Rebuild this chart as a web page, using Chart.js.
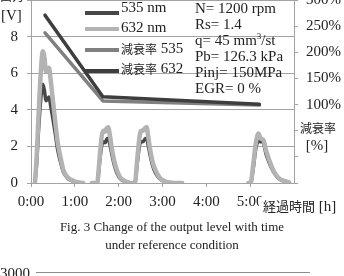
<!DOCTYPE html>
<html>
<head>
<meta charset="utf-8">
<script src="https://cdn.jsdelivr.net/npm/chart.js@4.4.1/dist/chart.umd.min.js"></script>
<style>
  html, body { margin: 0; padding: 0; background: #fff; }
  body { width: 344px; height: 276px; position: relative; overflow: hidden; font-family: "Liberation Serif", serif; color: #222; }
  #wrap { position: absolute; left: 0; top: -24px; width: 344px; height: 236px; }
  .txt { position: absolute; white-space: nowrap; }
  .jp { font-family: "Noto Sans CJK JP", sans-serif; font-size: 12px; }
</style>
</head>
<body>
<div id="wrap"><canvas id="grafico"></canvas></div>

<div class="txt jp" style="left:0px; top:-11px; line-height:14px;">出力</div>
<div class="txt" style="left:1px; top:6px; font-size:15px; line-height:18px;">[V]</div>

<div class="txt" style="left:195px; top:0px; font-size:15px; line-height:16px;">N= 1200 rpm<br>Rs= 1.4<br>q= 45 mm<sup style="font-size:9px; line-height:0;">3</sup>/st<br>Pb= 126.3 kPa<br>Pinj= 150MPa<br>EGR= 0 %</div>

<div class="txt" style="left:300px; top:119px; text-align:center; width:34px; line-height:17px; background:#fff;"><span class="jp">減衰率</span><br><span style="font-size:15px;">[%]</span></div>
<div class="txt" style="left:259px; top:197px; line-height:18px; background:#fff; padding-left:4px;"><span class="jp" style="font-size:13px;">経過時間</span><span style="font-size:15px;"> [h]</span></div>

<div class="txt" style="left:0; top:218px; width:344px; text-align:center; font-size:13px; line-height:18px;">Fig. 3 Change of the output level with time<br>under reference condition</div>

<div class="txt" style="left:0px; top:266px; font-size:15px; line-height:15px;">3000</div>
<div style="position:absolute; left:36px; top:272px; width:274px; height:1px; background:#8c8c8c;"></div>

<script>
"use strict"

// tiempo [h]
const tiempo = [
    0.09, 0.13, 0.17, 0.22, 0.27, 0.31, 0.34, 0.38, 0.41, 0.45, 0.50, 0.56, 0.61, 0.69, 0.74, 0.84, 0.94, 1.04, 1.19,
    1.30,
    1.39, 1.51, 1.56, 1.61, 1.65, 1.69, 1.73, 1.76, 1.80, 1.85, 1.91, 1.96, 2.05, 2.15, 2.25,
    2.28,
    2.31, 2.37, 2.42, 2.48, 2.51, 2.55, 2.60, 2.64, 2.67, 2.72, 2.78, 2.84, 2.93, 3.05, 3.20, 3.45,
    3.60,
    4.96, 5.01, 5.07, 5.13, 5.19, 5.23, 5.27, 5.31, 5.36, 5.42, 5.49, 5.56, 5.66, 5.79, 5.89
];

// salida [V] 535 nm
const salida535 = [
    0, 1.1, 2.8, 4.5, 5.4, 5.0, 4.5, 4.6, 4.7, 4.2, 3.5, 2.6, 1.8, 1.0, 0.6, 0.25, 0.12, 0.04, 0,
    null,
    0, 0, 1.0, 2.0, 2.25, 2.2, 2.4, 2.45, 2.1, 1.5, 0.9, 0.55, 0.2, 0.08, 0,
    null,
    0, 0, 1.0, 2.1, 2.25, 2.25, 2.4, 2.45, 2.1, 1.5, 0.9, 0.55, 0.25, 0.08, 0.02, 0,
    null,
    0, 0, 0.8, 1.9, 2.3, 2.25, 2.25, 2.15, 1.6, 1.2, 0.8, 0.5, 0.22, 0.08, 0.02
];

// salida [V] 632 nm
const salida632 = [
    0, 1.5, 3.6, 5.9, 7.2, 6.8, 6.1, 6.2, 6.3, 5.6, 4.5, 3.2, 2.2, 1.2, 0.7, 0.3, 0.15, 0.05, 0,
    null,
    0, 0, 1.2, 2.5, 2.85, 2.8, 3.0, 3.05, 2.6, 1.8, 1.1, 0.7, 0.25, 0.1, 0,
    null,
    0, 0, 1.2, 2.6, 2.85, 2.85, 3.0, 3.05, 2.6, 1.8, 1.1, 0.7, 0.3, 0.1, 0.02, 0,
    null,
    0, 0, 1.0, 2.2, 2.7, 2.45, 2.4, 2.3, 1.8, 1.35, 0.9, 0.55, 0.25, 0.1, 0.03
];

// tasa de atenuacion [%]
const tiempoTasa = [0.32, 1.64, 5.21];
const tasa535 = [237, 107, 99];
const tasa632 = [271, 115, 100.5];

const etiquetas = ['535 nm', '632 nm', '減衰率 535', '減衰率 632'];
const ticksHoras = [0, 1, 2, 3, 4, 5];

const fuente = 'Liberation Serif';
const fuenteJp = 'Noto Sans CJK JP';
const gris = '#a3a3a3';

function puntos(xs, ys) {
    return xs.map((x, i) => ({ x, y: ys[i] }));
}

// Leyenda dibujada dentro del area del grafico
const leyenda = {
    id: 'leyenda',
    afterDraw(chart) {
        const { ctx, chartArea } = chart;
        const lineaY = [13, 29, 50, 71];
        const textoY = [8, 28, 49, 69];
        ctx.save();
        chart.data.datasets.forEach((ds, i) => {
            const y = chartArea.top + lineaY[i];
            ctx.strokeStyle = ds.borderColor;
            ctx.lineWidth = 4;
            ctx.lineCap = 'butt';
            ctx.beginPath();
            ctx.moveTo(85, y);
            ctx.lineTo(119, y);
            ctx.stroke();

            const ty = chartArea.top + textoY[i];
            ctx.fillStyle = '#222';
            ctx.textBaseline = 'middle';
            ctx.textAlign = 'left';
            const m = ds.label.match(/^([^\x00-\x7F]+)(.*)$/);
            let x = 121;
            if (m) {
                ctx.font = `12px "${fuenteJp}"`;
                ctx.fillText(m[1], x, ty);
                x += ctx.measureText(m[1]).width;
                ctx.font = `15px "${fuente}"`;
                ctx.fillText(m[2], x, ty);
            } else {
                ctx.font = `15px "${fuente}"`;
                ctx.fillText(ds.label, x, ty);
            }
        });
        ctx.restore();
    }
};

const ctx = document.getElementById('grafico');

new Chart(ctx, {
    type: 'line',
    data: {
        datasets: [{
            label: etiquetas[0],
            data: puntos(tiempo, salida535),
            borderColor: '#474747',
            borderWidth: 3.5,
            yAxisID: 'y',
            order: 3
        }, {
            label: etiquetas[1],
            data: puntos(tiempo, salida632),
            borderColor: '#b3b3b3',
            borderWidth: 4.5,
            yAxisID: 'y',
            order: 2
        }, {
            label: etiquetas[2],
            data: puntos(tiempoTasa, tasa535),
            borderColor: '#808080',
            borderWidth: 3.5,
            cubicInterpolationMode: 'default',
            tension: 0,
            yAxisID: 'y2',
            order: 1
        }, {
            label: etiquetas[3],
            data: puntos(tiempoTasa, tasa632),
            borderColor: '#3e3e3e',
            borderWidth: 3.5,
            cubicInterpolationMode: 'default',
            tension: 0,
            yAxisID: 'y2',
            order: 0
        }]
    },
    options: {
        responsive: true,
        maintainAspectRatio: false,
        animation: false,
        spanGaps: false,
        layout: { padding: { top: 24, left: 0, right: 0, bottom: 0 } },
        elements: {
            point: { radius: 0 },
            line: { cubicInterpolationMode: 'monotone', borderJoinStyle: 'round', borderCapStyle: 'round' }
        },
        plugins: { legend: { display: false }, tooltip: { enabled: false } },
        scales: {
            x: {
                type: 'linear',
                min: 0,
                max: 6,
                afterFit: s => { s.height = 29; },
                afterBuildTicks: s => { s.ticks = ticksHoras.map(v => ({ value: v })); },
                grid: { drawOnChartArea: false, drawTicks: true, tickLength: 4, color: gris },
                border: { display: true, color: gris },
                ticks: {
                    padding: 6,
                    maxRotation: 0,
                    color: '#222',
                    font: { family: fuente, size: 15 },
                    callback: v => v + ':00'
                }
            },
            y: {
                position: 'left',
                min: 0,
                max: 10,
                afterFit: s => { s.width = 31; },
                grid: { color: gris, tickLength: 4 },
                border: { display: true, color: gris },
                ticks: {
                    stepSize: 2,
                    padding: 9,
                    color: '#222',
                    font: { family: fuente, size: 15 },
                    callback: v => v === 10 ? '' : v
                }
            },
            y2: {
                position: 'right',
                min: -50,
                max: 300,
                afterFit: s => { s.width = 50; },
                grid: { drawOnChartArea: false, tickLength: 4, color: gris },
                border: { display: true, color: gris },
                ticks: {
                    stepSize: 50,
                    padding: 8,
                    color: '#222',
                    font: { family: fuente, size: 15 },
                    callback: v => v >= 100 ? v + '%' : ''
                }
            }
        }
    },
    plugins: [leyenda]
});
</script>
</body>
</html>
